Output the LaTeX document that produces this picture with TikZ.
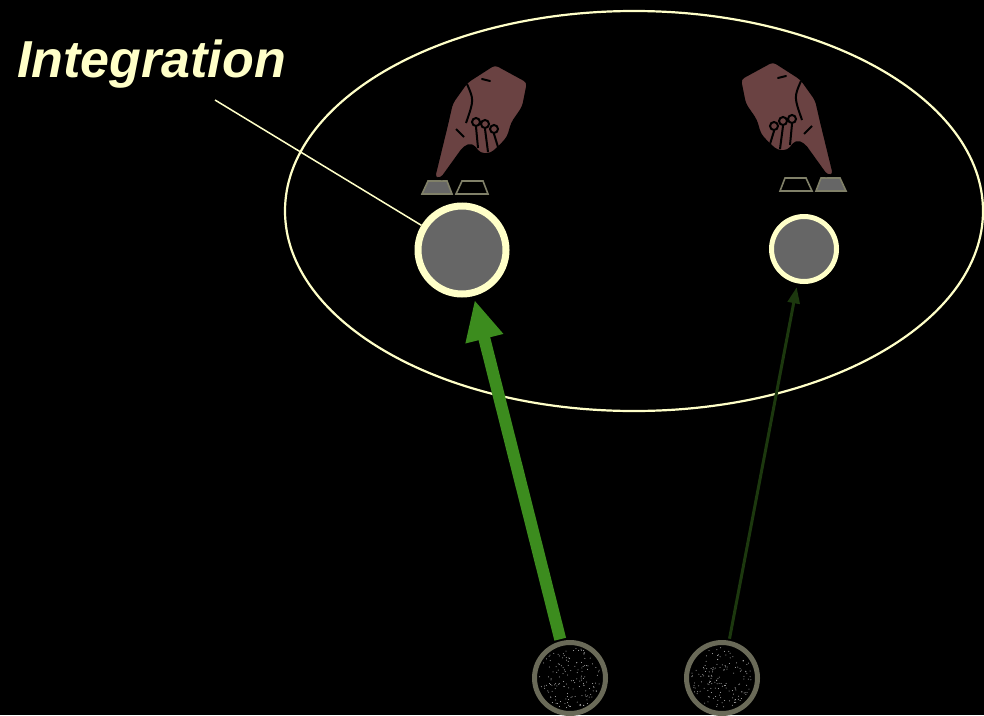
\documentclass[tikz,border=0pt]{standalone}
\usepackage{fontspec}
\newfontfamily\labelfont{Liberation Sans}
\usetikzlibrary{arrows.meta}
\definecolor{paleyellow}{RGB}{255,255,200}
\definecolor{disc}{RGB}{102,102,102}
\definecolor{strong}{RGB}{60,140,30}
\definecolor{weak}{RGB}{28,56,14}
\definecolor{ring}{RGB}{106,106,88}
\definecolor{skin}{RGB}{106,66,66}
\definecolor{keyedge}{RGB}{128,128,104}
\tikzset{
  unit/.style={circle,draw=paleyellow,fill=disc,inner sep=0pt},
  source/.style={circle,draw=ring,line width=5pt,fill=black,inner sep=0pt,minimum size=71pt},
  hand/.pic={
    % key under the finger, pressed
    \draw[keyedge,fill=disc,line width=1.6pt] (-38,74) -- (-32,61) -- (-13,61) -- (-8,74) -- cycle;
    \draw[keyedge,line width=1.6pt] (-4,74) -- (2,61) -- (23,61) -- (28,74) -- cycle;
    % fist with pointing finger
    \draw[fill=skin,line width=2pt,rounded corners=4pt]
      (7,-38) -- (35,-56) -- (68,-38) -- (63,-13) -- (52,3) -- (48,17) -- (41,25)
      -- (31,34) -- (20,34) -- (12,24) -- (4,27) -- (-19,59) -- (-26,58)
      -- (-24,50) -- (-13,5) -- (-8,-17) -- cycle;
    \draw[line width=2pt] (7,-36) .. controls (14,-20) .. (6,3);
    \draw[line width=2pt,line cap=round] (22,-41) -- (30,-39);
    \draw[line width=2pt] (16,2) circle (4) (25,4) circle (4) (34,9) circle (4);
    \draw[line width=2pt] (16,7) -- (18,28) (25,9) -- (28,32) (34,14) -- (38,27);
    \draw[line width=2pt] (-4,9) -- (4,17);
  }
}
\begin{document}
\begin{tikzpicture}[x=1pt,y=-1pt]
\fill[black] (0,0) rectangle (984,715);
\useasboundingbox (0,0) rectangle (984,715);

% the integrating area
\draw[paleyellow,line width=2.2pt] (634,211) ellipse [x radius=349,y radius=200];

\node[unit,line width=7pt,minimum size=88pt] (tl) at (462,250) {};
\node[unit,line width=5pt,minimum size=65pt] (tr) at (804,249) {};

\pic at (460,120) {hand};
\pic[xscale=-1] at (808,117) {hand};

% noisy inputs
\node[source] (bl) at (570,678) {};
\node[source] (br) at (722,678) {};
\pgfmathsetseed{7}
\foreach \src in {bl,br}{
  \foreach \k in {1,...,150}{
    \pgfmathsetmacro\ang{360*rnd}
    \pgfmathsetmacro\rad{31*sqrt(rnd)}
    \fill[gray!55] (\src) ++(\ang:\rad) circle (0.5);
  }
}

\draw[strong,line width=12pt,shorten <=2pt,shorten >=4pt,-{Triangle[width=36pt,length=40pt]}] (bl) -- (tl);
\draw[weak,line width=3pt,shorten <=2pt,shorten >=4pt,-{Triangle[width=12pt,length=16pt]}] (br) -- (tr);

\node[paleyellow,anchor=base west,inner sep=0pt,font=\labelfont\bfseries\itshape\fontsize{52}{60}\selectfont] (label) at (17,77) {Integration};
\coordinate (lblend) at (215,100);
\draw[paleyellow,line width=1.5pt] (lblend) -- (tl);
\end{tikzpicture}
\end{document}
